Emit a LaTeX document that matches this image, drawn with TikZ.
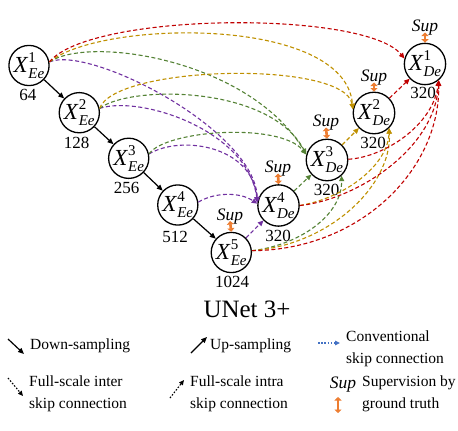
\documentclass[tikz,border=0pt]{standalone}
\usepackage{fontspec}
\setmainfont{Liberation Serif}
\usetikzlibrary{arrows.meta,calc}
\definecolor{cred}{HTML}{C00000}
\definecolor{cgold}{HTML}{BF9000}
\definecolor{cgreen}{HTML}{548235}
\definecolor{cpurp}{HTML}{7030A0}
\definecolor{corange}{HTML}{ED7D31}
\definecolor{cblue}{HTML}{4472C4}
\newcommand{\nodex}[2]{\textit{X}\rlap{\raisebox{10pt}{\fontsize{15}{15}\selectfont #1}}\raisebox{-6pt}{\fontsize{15}{15}\selectfont\textit{#2}}}
\begin{document}
\begin{tikzpicture}[x=1pt,y=-1pt,
  nd/.style={circle,draw,line width=1.3pt,minimum size=40pt,inner sep=0pt,fill=white,font=\fontsize{23}{25}\selectfont},
  num/.style={inner sep=0pt,font=\fontsize{17}{20}\selectfont},
  suptxt/.style={inner sep=0pt,anchor=base,font=\fontsize{17.5}{20}\selectfont\itshape},
  suparr/.style={color=corange,line width=2.6pt,arrows={Triangle[length=3.5pt,width=7pt]-Triangle[length=3.5pt,width=7pt]}},
  dn/.style={line width=1.2pt,arrows={-Triangle[length=6pt,width=5pt]}},
  sk/.style={line width=1.1pt,dash pattern=on 4pt off 2.5pt,arrows={-Triangle[length=5.5pt,width=5pt]}},
  dotarr/.style={line width=1.1pt,dash pattern=on 1.6pt off 1.6pt,arrows={-Triangle[length=5pt,width=4.5pt]}},
  lg/.style={inner sep=0pt,anchor=west,align=left,font=\fontsize{15.5}{22}\selectfont}]
\useasboundingbox (0,0) rectangle (458,431);

% encoder / decoder nodes
\node[nd] (E1) at (29,65.5) {\nodex{1}{Ee}};
\node[nd] (E2) at (79.3,112.7) {\nodex{2}{Ee}};
\node[nd] (E3) at (128.7,158.3) {\nodex{3}{Ee}};
\node[nd] (E4) at (177.8,205) {\nodex{4}{Ee}};
\node[nd] (E5) at (231.3,252.5) {\nodex{5}{Ee}};
\node[nd] (D4) at (278.5,205.5) {\nodex{4}{De}};
\node[nd] (D3) at (327,160) {\nodex{3}{De}};
\node[nd] (D2) at (374,113) {\nodex{2}{De}};
\node[nd] (D1) at (425,64) {\nodex{1}{De}};

% channel numbers
\node[num] (n1) at (28,95) {64};
\node[num] (n2) at (76.5,143) {128};
\node[num] (n3) at (126.7,188) {256};
\node[num] (n4) at (175,236.7) {512};
\node[num] (n5) at (232,281.5) {1024};
\node[num] (m4) at (278,235.5) {320};
\node[num] (m3) at (326.7,190) {320};
\node[num] (m2) at (373,143) {320};
\node[num] (m1) at (423,93) {320};

% supervision
\node[suptxt] (s1) at (425,31.5) {Sup};
\node[suptxt] (s2) at (374,81.5) {Sup};
\node[suptxt] (s3) at (326,126.5) {Sup};
\node[suptxt] (s4) at (278,172.5) {Sup};
\node[suptxt] (s5) at (230,220) {Sup};
\draw[suparr] ($(s1.base)+(0,1)$) -- (D1.north);
\draw[suparr] ($(s2.base)+(0,1)$) -- (D2.north);
\draw[suparr] ($(s3.base)+(0,1)$) -- (D3.north);
\draw[suparr] ($(s4.base)+(0,1)$) -- (D4.north);
\draw[suparr] ($(s5.base)+(0,1)$) -- (E5.north);

% down-sampling
\draw[dn] (E1) -- (E2);
\draw[dn] (E2) -- (E3);
\draw[dn] (E3) -- (E4);
\draw[dn] (E4) -- (E5);

% purple -> D4
\draw[sk,cpurp] (E1.10) .. controls (90,45) and (255,130) .. (D4.172);
\draw[sk,cpurp] (E2.12) .. controls (140,95) and (248,130) .. (D4.172);
\draw[sk,cpurp] (E3.12) .. controls (180,135) and (252,145) .. (D4.172);
\draw[sk,cpurp] (E4.8) .. controls (215,192) and (240,192) .. (D4.175);
\draw[sk,cpurp] (E5) -- (D4);

% green -> D3
\draw[sk,cgreen] (E1.10) .. controls (90,35) and (250,60) .. (D3.165);
\draw[sk,cgreen] (E2.12) .. controls (130,85) and (270,85) .. (D3.165);
\draw[sk,cgreen] (E3.12) .. controls (165,130) and (280,122) .. (D3.165);
\draw[sk,cgreen] (D4) -- (D3);
\draw[sk,cgreen] (E5.5) .. controls (300,245) and (342,215) .. (D3.-47);

% gold -> D2
\draw[sk,cgold] (E1.10) .. controls (100,20) and (345,15) .. (D2.170);
\draw[sk,cgold] (E2.12) .. controls (115,65) and (345,60) .. (D2.170);
\draw[sk,cgold] (D3) -- (D2);
\draw[sk,cgold] (D4.0) .. controls (345,198) and (388,165) .. (D2.-45);
\draw[sk,cgold] (E5.5) .. controls (330,245) and (392,185) .. (D2.-45);

% red -> D1
\draw[sk,cred] (E1.10) .. controls (90,12) and (365,10) .. (D1.165);
\draw[sk,cred] (D2) -- (D1);
\draw[sk,cred] (D3.2) .. controls (385,157) and (433,125) .. (D1.-50);
\draw[sk,cred] (D4.0) .. controls (355,200) and (435,150) .. (D1.-50);
\draw[sk,cred] (E5.5) .. controls (360,250) and (440,170) .. (D1.-50);

% title
\node[inner sep=0pt,anchor=base,font=\fontsize{25}{28}\selectfont] (title) at (247,317) {UNet 3+};

% legend
\coordinate (a1) at (8,339); \coordinate (a2) at (24,354);
\draw[dn] (a1) -- (a2);
\node[lg] (t1) at (30,346) {Down-sampling};
\coordinate (b1) at (191,353); \coordinate (b2) at (207,337);
\draw[dn] (b1) -- (b2);
\node[lg] (t2) at (210,346) {Up-sampling};
\coordinate (c1) at (318,343); \coordinate (c2) at (340,343);
\draw[dotarr,cblue] (c1) -- (c2);
\node[lg] (t3) at (346,348.5) {Conventional\\skip connection};
\coordinate (d1) at (8,378); \coordinate (d2) at (23,396);
\draw[dotarr] (d1) -- (d2);
\node[lg] (t4) at (29,394) {Full-scale inter\\skip connection};
\coordinate (e1) at (170,398); \coordinate (e2) at (184,380);
\draw[dotarr] (e1) -- (e2);
\node[lg] (t5) at (190,394) {Full-scale intra\\skip connection};
\node[suptxt] (s6) at (343,388.5) {Sup};
\coordinate (f1) at (338,397); \coordinate (f2) at (338,413);
\draw[suparr] (f1) -- (f2);
\node[lg] (t6) at (362,394) {Supervision by\\ground truth};
\end{tikzpicture}
\end{document}
